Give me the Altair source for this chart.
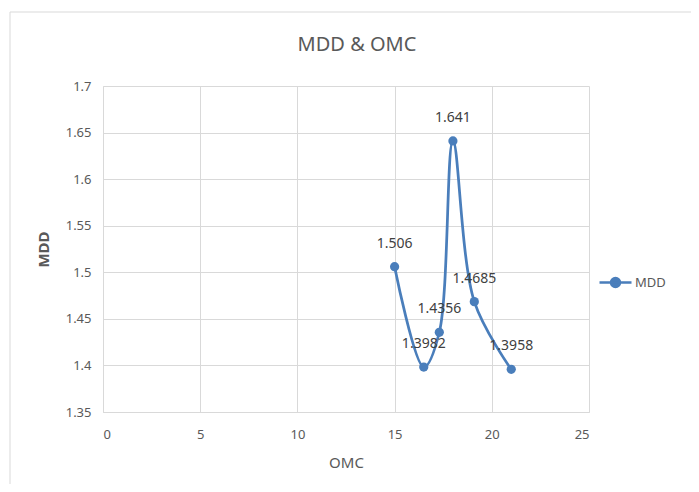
import altair as alt
import pandas as pd

omc = [15, 16.5, 17.3, 18, 19.1, 21]
mdd = [1.506, 1.3982, 1.4356, 1.641, 1.4685, 1.3958]
labels = ["1.506", "1.3982", "1.4356", "1.641", "1.4685", "1.3958"]
series = ["MDD"] * len(omc)
x_ticks = [0, 5, 10, 15, 20, 25]
y_ticks = [1.35, 1.4, 1.45, 1.5, 1.55, 1.6, 1.65, 1.7]
chart_title = ["MDD & OMC"]

df = pd.DataFrame({"OMC": omc, "MDD": mdd, "label": labels, "series": series})

BLUE = "#4A7EBB"
FONT = "Noto Sans"
GRAY = "#595959"

x = alt.X("OMC:Q", scale=alt.Scale(domain=[0, 25], nice=False),
          axis=alt.Axis(values=x_ticks, title="OMC", titleFontWeight="normal",
                        titleFontSize=15, titleColor=GRAY, titlePadding=14,
                        labelFontSize=13, labelColor=GRAY, labelPadding=16,
                        ticks=False, domainColor="#D9D9D9", gridColor="#D9D9D9"))
y = alt.Y("MDD:Q", scale=alt.Scale(domain=[1.35, 1.7], nice=False, zero=False),
          axis=alt.Axis(values=y_ticks, format=".2~f", title="MDD",
                        titleFontWeight="bold", titleFontSize=15, titleColor=GRAY,
                        titlePadding=14, labelFontSize=13, labelColor=GRAY,
                        labelPadding=12, ticks=False, domainColor="#D9D9D9",
                        gridColor="#D9D9D9"))

color = alt.Color("series:N", scale=alt.Scale(range=[BLUE]),
                  legend=alt.Legend(title=None, orient="none", legendX=495, legendY=179,
                                    symbolType="M-1,0H1M-0.28,0A0.28,0.28,0,1,1,0.28,0A0.28,0.28,0,1,1,-0.28,0",
                                    symbolSize=1024, symbolStrokeWidth=2.5,
                                    symbolFillColor=BLUE, symbolStrokeColor=BLUE,
                                    labelFontSize=13, labelColor=GRAY, labelFont=FONT,
                                    labelOffset=2))

frame = alt.Chart(pd.DataFrame({"a": [0]})).mark_rect(
    fill=None, stroke="#D9D9D9", strokeWidth=1
).encode(x=alt.value(-93), x2=alt.value(620), y=alt.value(-74), y2=alt.value(420))

title = alt.Chart(pd.DataFrame({"t": chart_title})).mark_text(
    fontSize=20, font=FONT, color=GRAY, baseline="middle", align="center"
).encode(x=alt.value(254), y=alt.value(-41), text="t:N")

line = alt.Chart(df).mark_line(interpolate="catmull-rom", strokeWidth=2.75).encode(
    x=x, y=y, color=color)
pts = alt.Chart(df).mark_circle(size=85, opacity=1).encode(
    x="OMC:Q", y="MDD:Q", color=alt.Color("series:N", legend=None))
txt = alt.Chart(df).mark_text(dy=-23, fontSize=14, color="#404040", font=FONT).encode(
    x="OMC:Q", y="MDD:Q", text="label:N")

chart = alt.layer(frame, title, line, pts, txt).properties(
    width=486, height=326,
    autosize=alt.AutoSizeParams(type="none"),
    padding={"left": 95, "top": 78, "right": 102, "bottom": 72},
).configure_view(stroke=None).configure_axis(labelFont=FONT, titleFont=FONT)

chart.save("out.html", embed_options={"renderer": "svg", "actions": False})
